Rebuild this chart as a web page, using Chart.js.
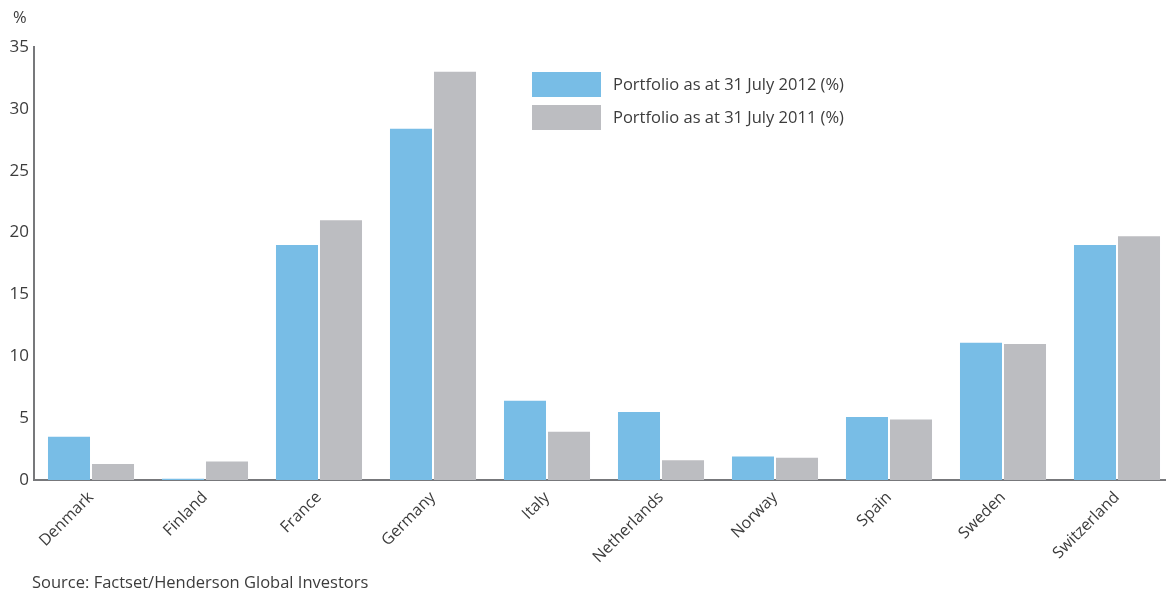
<!DOCTYPE html>
<html>
<head>
<meta charset="utf-8">
<script src="https://cdn.jsdelivr.net/npm/chart.js@4/dist/chart.umd.min.js"></script>
<style>
  html, body { margin: 0; padding: 0; background: #fff; overflow: hidden; }
  #wrap { position: relative; width: 1166px; height: 595px; overflow: hidden; }
  canvas { position: absolute; left: 0; top: 0; }
</style>
</head>
<body>
<div id="wrap"><canvas id="c" width="1174" height="595"></canvas></div>
<script>
// Country weights of the portfolio, in percent
const countries = ['Denmark', 'Finland', 'France', 'Germany', 'Italy', 'Netherlands', 'Norway', 'Spain', 'Sweden', 'Switzerland'];
const weights2012 = [3.5, 0.1, 19.0, 28.4, 6.4, 5.5, 1.9, 5.1, 11.1, 19.0];
const weights2011 = [1.3, 1.5, 21.0, 33.0, 3.9, 1.6, 1.8, 4.9, 11.0, 19.7];
const seriesLabels = ['Portfolio as at 31 July 2012 (%)', 'Portfolio as at 31 July 2011 (%)'];
const yTicks = [0, 5, 10, 15, 20, 25, 30, 35];

const FONT = '"Open Sans", "Noto Sans", sans-serif';
const TEXT = '#3c3c3c';
const BLUE = '#78bde6';
const GREY = '#bcbdc1';

// Legend boxes, the unit mark above the axis and the source line
const decorations = {
  id: 'decorations',
  afterDraw(chart) {
    const ctx = chart.ctx;
    ctx.save();
    ctx.fillStyle = TEXT;
    ctx.font = '16.5px ' + FONT;
    ctx.textBaseline = 'middle';
    ctx.textAlign = 'left';
    ctx.fillText('%', 13, 18);
    ctx.fillText('Source: Factset/Henderson Global Investors', 32, 583);
    chart.data.datasets.forEach((ds, i) => {
      const y = 72 + i * 33;
      ctx.fillStyle = ds.backgroundColor;
      ctx.fillRect(532, y, 69, 25);
      ctx.fillStyle = TEXT;
      ctx.fillText(ds.label, 613, y + 13);
    });
    ctx.restore();
  }
};

new Chart(document.getElementById('c'), {
  type: 'bar',
  data: {
    labels: countries,
    datasets: [
      { label: seriesLabels[0], data: weights2012, backgroundColor: BLUE },
      { label: seriesLabels[1], data: weights2011, backgroundColor: GREY }
    ]
  },
  options: {
    responsive: false,
    animation: false,
    devicePixelRatio: 1,
    layout: { padding: { top: 47, left: 0, right: 0, bottom: 0 } },
    datasets: { bar: { categoryPercentage: 0.772, barPercentage: 0.955 } },
    plugins: { legend: { display: false }, tooltip: { enabled: false } },
    scales: {
      x: {
        grid: { display: false, drawTicks: false },
        border: { display: true, color: '#77787b', width: 2 },
        ticks: {
          color: TEXT,
          font: { family: FONT, size: 16 },
          minRotation: 45,
          maxRotation: 45,
          padding: 8
        },
        afterFit(scale) { scale.height = 115; }
      },
      y: {
        min: 0,
        max: 35,
        afterBuildTicks(scale) { scale.ticks = yTicks.map(v => ({ value: v })); },
        grid: { display: false, drawTicks: false },
        border: { display: true, color: '#77787b', width: 2 },
        ticks: {
          color: TEXT,
          font: { family: FONT, size: 17 },
          padding: 5
        },
        afterFit(scale) { scale.width = 34; }
      }
    }
  },
  plugins: [decorations]
});
</script>
</body>
</html>
